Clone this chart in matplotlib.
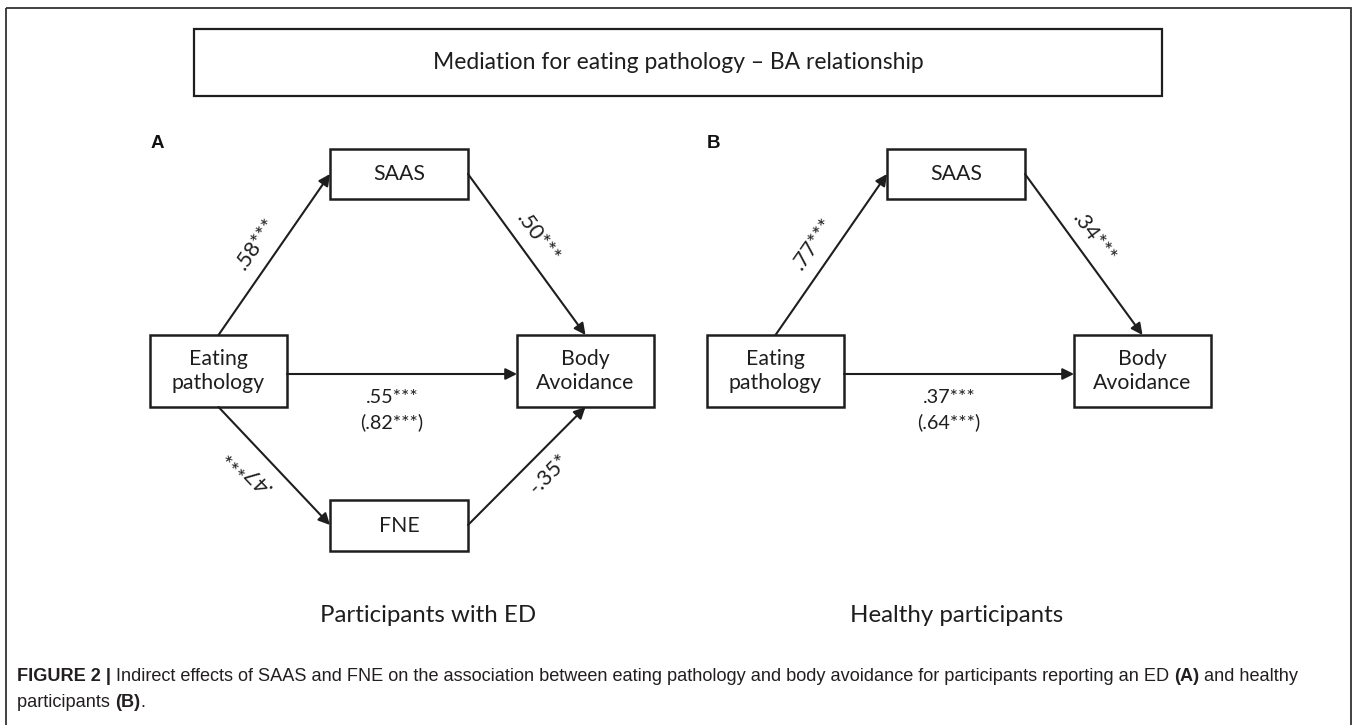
import numpy as np
import matplotlib
matplotlib.use("Agg")
import matplotlib.pyplot as plt
from matplotlib.patches import Rectangle

# --- contenu du schéma ---
titre = "Mediation for eating pathology \u2013 BA relationship"
noeuds = ["Eating\npathology", "SAAS", "FNE", "Body\nAvoidance"]
panneaux = ["A", "B"]
groupes = ["Participants with ED", "Healthy participants"]

# coefficients : a (X->SAAS), b (SAAS->Y), a2 (X->FNE), b2 (FNE->Y)
coef_A = [".58***", ".50***", ".47***", "-.35*"]
direct_A = ".55***"
total_A = "(.82***)"
coef_B = [".77***", ".34***"]
direct_B = ".37***"
total_B = "(.64***)"

# --- mise en page (pixels) ---
W, H = 1357, 725
BW, BH = 137, 72      # boites X / Y
MW, MH = 138, 50      # boites mediateurs
ENCRE = "#1e1e1e"
POLICE = ["Lato", "DejaVu Sans"]

fig = plt.figure(figsize=(W / 100, H / 100), dpi=100)
ax = fig.add_axes([0, 0, 1, 1])
ax.set_xlim(0, W)
ax.set_ylim(H, 0)
ax.axis("off")

# cadre exterieur
ax.add_patch(Rectangle((6, 8), 1345, 740, fill=False, lw=1.3, ec="#333333"))

# titre
ax.add_patch(Rectangle((194, 29), 968, 67, fill=False, lw=1.6, ec=ENCRE))
ax.text(678, 62, titre, ha="center", va="center", fontsize=16.5, family=POLICE, color=ENCRE)


def boite(x, y, w, h, txt):
    ax.add_patch(Rectangle((x, y), w, h, fill=False, lw=1.8, ec=ENCRE))
    ax.text(x + w / 2, y + h / 2, txt, ha="center", va="center", fontsize=15.3,
            family=POLICE, color=ENCRE, linespacing=1.2)
    return x, y, w, h


def fleche(p0, p1):
    ax.annotate("", xy=p1, xytext=p0,
                arrowprops=dict(arrowstyle="-|>", lw=1.5, color=ENCRE,
                                mutation_scale=17, shrinkA=0, shrinkB=0))


def etiquette(p0, p1, txt, cote, dist=20, glisse=0, flip=False):
    # texte parallele a la fleche, decale perpendiculairement (cote=+1 : a droite du sens)
    dx, dy = p1[0] - p0[0], p1[1] - p0[1]
    L = np.hypot(dx, dy)
    ux, uy = dx / L, dy / L
    nx, ny = -uy * cote, ux * cote
    mx = (p0[0] + p1[0]) / 2 + nx * dist + ux * glisse
    my = (p0[1] + p1[1]) / 2 + ny * dist + uy * glisse
    ang = np.degrees(np.arctan2(-dy, dx))
    if ang > 90:
        ang -= 180
    if ang < -90:
        ang += 180
    if flip:
        ang += 180
    ax.text(mx, my, txt, rotation=ang, rotation_mode="anchor", ha="center", va="center",
            fontsize=15.5, family=POLICE, color=ENCRE)


def panneau(x0, coefs, direct, total, avec_fne, nom, groupe, gx):
    ex = boite(x0, 335, BW, BH, noeuds[0])
    sa = boite(x0 + 180, 149, MW, MH, noeuds[1])
    by = boite(x0 + 367, 335, BW, BH, noeuds[3])
    ax.text(x0 + 7, 143, nom, ha="center", va="center", fontsize=13.5, fontweight="bold",
            family=["Liberation Sans", "DejaVu Sans"], color="#111111")

    haut_x = (ex[0] + BW / 2, ex[1])
    sa_g = (sa[0], sa[1] + MH / 2)
    sa_d = (sa[0] + MW, sa[1] + MH / 2)
    haut_y = (by[0] + BW / 2, by[1])
    fleche(haut_x, sa_g)
    fleche(sa_d, haut_y)
    etiquette(haut_x, sa_g, coefs[0], -1, dist=21, glisse=-2)
    etiquette(sa_d, haut_y, coefs[1], -1, dist=18, glisse=-7)

    yc = ex[1] + 39
    fleche((ex[0] + BW, yc), (by[0], yc))
    xm = (ex[0] + BW + by[0]) / 2 - 10
    ax.text(xm, yc + 23, direct, ha="center", va="center", fontsize=14.2, family=POLICE, color=ENCRE)
    ax.text(xm, yc + 48, total, ha="center", va="center", fontsize=14.2, family=POLICE, color=ENCRE)

    if avec_fne:
        fn = boite(x0 + 180, 500, MW, 51, noeuds[2])
        bas_x = (ex[0] + BW / 2, ex[1] + BH)
        fn_g = (fn[0], fn[1] + 25)
        fn_d = (fn[0] + MW, fn[1] + 25)
        bas_y = (by[0] + BW / 2, by[1] + BH)
        fleche(bas_x, fn_g)
        fleche(fn_d, bas_y)
        etiquette(bas_x, fn_g, coefs[2], 1, dist=21, glisse=-16, flip=True)
        etiquette(fn_d, bas_y, coefs[3], 1, dist=21, glisse=10)

    ax.text(gx, 616, groupe, ha="center", va="center", fontsize=17.3, family=POLICE, color=ENCRE)


panneau(150, coef_A, direct_A, total_A, True, panneaux[0], groupes[0], 428)
panneau(707, coef_B, direct_B, total_B, False, panneaux[1], groupes[1], 957)

# legende de la figure (morceaux gras / normaux enchaines)
cap = ["Liberation Sans", "DejaVu Sans"]
ligne1 = [("FIGURE 2 |", "bold"),
          (" Indirect effects of SAAS and FNE on the association between eating pathology and body avoidance"
           " for participants reporting an ED ", "normal"),
          ("(A)", "bold"), (" and healthy", "normal")]
ligne2 = [("participants ", "normal"), ("(B)", "bold"), (".", "normal")]

for yb, morceaux in [(681, ligne1), (707, ligne2)]:
    prec = None
    for txt, poids in morceaux:
        if prec is None:
            prec = ax.text(17, yb, txt, ha="left", va="baseline", fontsize=13.1,
                           fontweight=poids, family=cap, color="#231f20")
        else:
            prec = ax.annotate(txt, xy=(1, 0), xycoords=prec, ha="left", va="bottom",
                               fontsize=13.1, fontweight=poids, family=cap, color="#231f20")

fig.savefig("out.png", dpi=100)
